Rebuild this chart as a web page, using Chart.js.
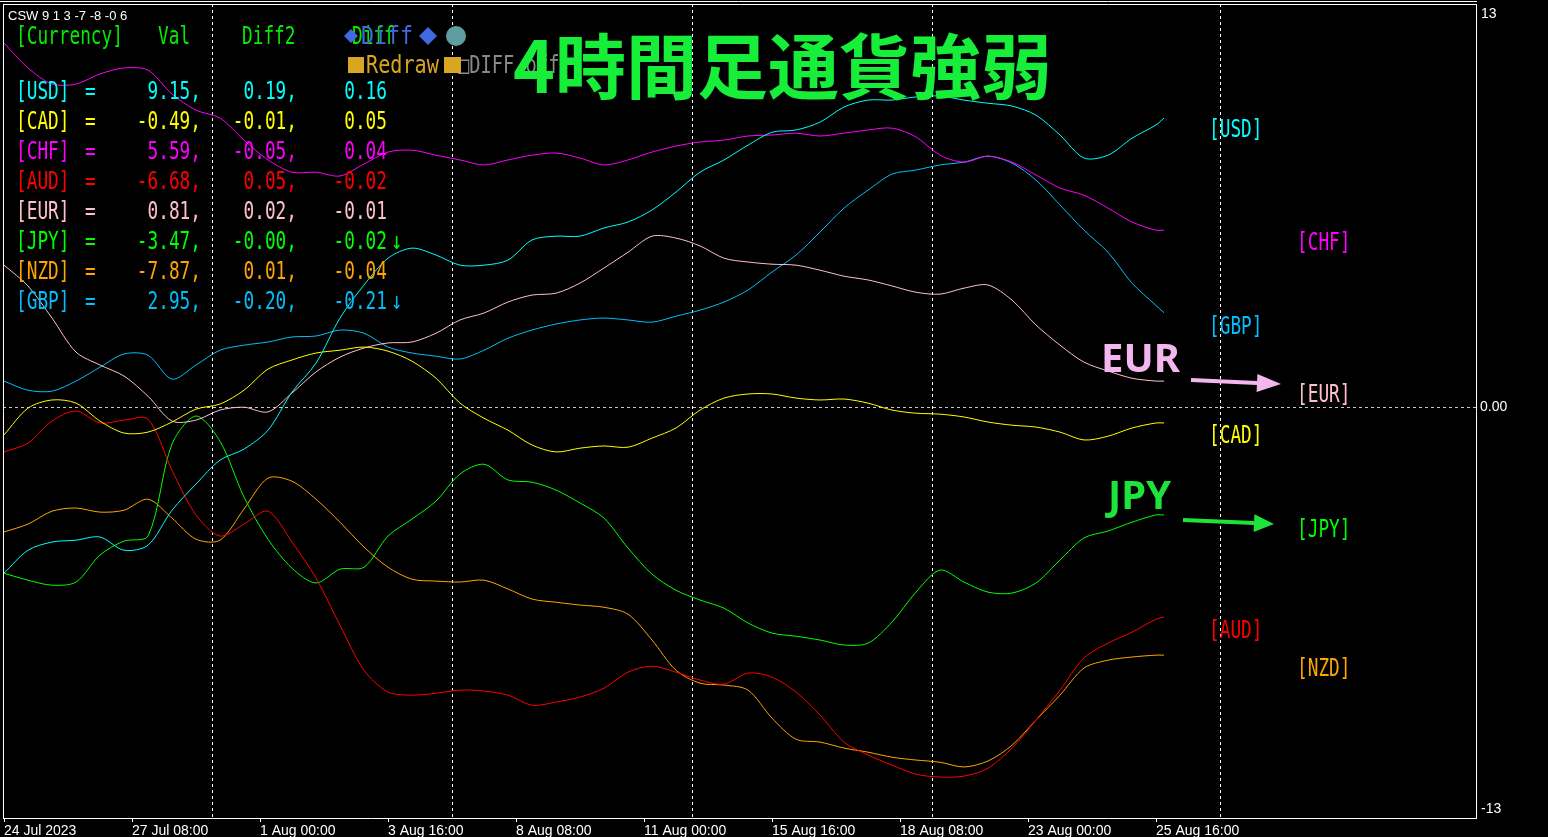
<!DOCTYPE html>
<html><head><meta charset="utf-8">
<script src="https://cdn.jsdelivr.net/npm/chart.js@4.4.0/dist/chart.umd.min.js"></script>
<style>html,body{margin:0;padding:0;background:#000;overflow:hidden}canvas{display:block}</style>
</head><body>
<canvas id="c" width="1548" height="837"></canvas>
<script>
// bar index (4H bars, 0 = 24 Jul 2023 16:00)
const bars = [0,3,6,9,12,15,18,21,24,27,30,33,36,39,42,45,48,51,54,57,60,63,66,69,72,75,78,81,84,87,90,93,96,99,102,105,108,111,114,117,120,123,126,129,132,135,138,141,144,145];

const usd = [-5.29,-4.56,-4.30,-4.24,-4.14,-4.56,-4.40,-3.29,-2.46,-1.70, -1.35,-0.75,0.46,1.38,2.81,3.86,4.71,5.03,4.81,4.49, 4.49,4.65,5.29,5.41,5.41,5.67,5.86,6.24,6.81,7.44, 7.83,8.30,8.71,8.78,9.03,9.51,9.73,9.73,9.83,9.86, 9.73,9.63,9.54,9.25,8.62,7.89,7.98,8.52,8.94,9.16];
const cad = [-0.90,-0.05,0.21,0.11,-0.46,-0.84,-0.81,-0.49,-0.08,0.08, 0.52,1.19,1.48,1.70,1.79,1.89,1.76,1.44,0.90,0.11, -0.37,-0.75,-1.22,-1.44,-1.32,-1.25,-1.29,-1.00,-0.68,-0.11, 0.27,0.40,0.40,0.27,0.21,0.24,0.11,-0.11,-0.21,-0.24, -0.33,-0.49,-0.59,-0.65,-0.81,-1.06,-0.94,-0.68,-0.52,-0.52];
const chf = [11.54,10.75,10.24,10.24,10.56,10.75,10.68,9.92,9.41,9.16, 8.46,7.83,7.44,7.44,7.32,7.70,8.08,8.14,7.98,7.83, 7.67,7.83,7.98,8.05,7.89,7.67,7.83,8.08,8.27,8.40, 8.46,8.59,8.62,8.68,8.59,8.68,8.78,8.84,8.56,7.98, 7.76,7.95,7.76,7.35,6.94,6.71,6.30,5.86,5.60,5.60];
const aud = [-1.44,-1.16,-0.46,-0.14,-0.52,-0.43,-0.40,-2.02,-3.44,-4.11, -3.73,-3.32,-4.30,-5.44,-6.94,-8.37,-9.06,-9.16,-9.10,-9.00, -9.03,-9.16,-9.48,-9.38,-9.22,-8.94,-8.43,-8.24,-8.43,-8.68, -8.81,-8.46,-8.59,-9.06,-9.79,-10.65,-11.06,-11.38,-11.67,-11.76, -11.73,-11.48,-10.84,-9.95,-9.00,-7.98,-7.51,-7.16,-6.75,-6.68];
const eur = [4.49,3.83,2.81,1.73,1.32,0.97,0.33,-0.46,-0.43,-0.11, -0.02,-0.17,0.43,1.10,1.57,1.86,2.02,2.05,2.33,2.75, 2.97,3.32,3.54,3.60,3.92,4.40,4.90,5.41,5.35,5.10, 4.71,4.59,4.52,4.49,4.33,4.14,4.02,3.83,3.63,3.57, 3.76,3.86,3.38,2.59,1.95,1.41,1.13,0.90,0.81,0.81];
const jpy = [-5.29,-5.51,-5.67,-5.57,-4.71,-4.27,-4.11,-1.19,-0.30,-1.10, -2.87,-4.21,-5.13,-5.60,-5.16,-5.10,-4.11,-3.57,-3.00,-2.14, -1.83,-2.33,-2.40,-2.65,-3.06,-3.54,-4.49,-5.32,-5.83,-6.14, -6.40,-6.87,-7.19,-7.29,-7.41,-7.57,-7.51,-6.84,-5.89,-5.19, -5.57,-5.89,-5.92,-5.60,-4.87,-4.17,-3.95,-3.67,-3.44,-3.44];
const nzd = [-3.98,-3.73,-3.32,-3.22,-3.35,-3.29,-2.94,-3.54,-4.21,-4.24, -3.25,-2.27,-2.37,-2.94,-3.67,-4.46,-5.10,-5.48,-5.54,-5.57, -5.51,-5.79,-6.11,-6.21,-6.30,-6.37,-6.59,-7.41,-8.37,-8.78, -8.84,-9.00,-9.89,-10.56,-10.65,-10.84,-10.97,-11.13,-11.22,-11.29, -11.44,-11.25,-10.75,-9.95,-9.16,-8.30,-8.05,-7.95,-7.89,-7.89];
const gbp = [0.81,0.52,0.49,0.81,1.25,1.67,1.63,0.87,1.32,1.79, 1.95,2.05,2.21,2.24,2.43,2.33,1.89,1.70,1.60,1.51, 1.79,2.17,2.43,2.62,2.75,2.81,2.75,2.68,2.87,3.06, 3.32,3.70,4.27,4.81,5.54,6.30,6.87,7.38,7.51,7.67, 7.76,7.95,7.73,7.19,6.40,5.60,4.90,3.92,3.21,2.98];

const currencies = ['USD','CAD','CHF','AUD','EUR','JPY','NZD','GBP'];
const seriesVals = [usd,cad,chf,aud,eur,jpy,nzd,gbp];
const colors = ['#00FFFF','#FFFF00','#FF00FF','#FF0000','#FFC0CB','#00FF00','#FFA500','#00BFFF'];

// legend table
const valNow = [9.15,-0.49,5.59,-6.68,0.81,-3.47,-7.87,2.95];
const diff2 = [0.19,-0.01,-0.05,0.05,0.02,-0.001,0.01,-0.20];
const diff1 = [0.16,0.05,0.04,-0.02,-0.01,-0.02,-0.04,-0.21];
const trend = ['','','','','','↓','','↓'];

// axis
const tickBars = [0,16,32,48,64,80,96,112,128,144];
const tickLabels = ['24 Jul 2023','27 Jul 08:00','1 Aug 00:00','3 Aug 16:00','8 Aug 08:00','11 Aug 00:00','15 Aug 16:00','18 Aug 08:00','23 Aug 00:00','25 Aug 16:00'];
const separatorBars = [26,56,86,116,152];
const yLabels = ['13','0.00','-13'];
const yMin = -13.06, yMax = 12.78;

const MONO = '"DejaVu Sans Mono", "Liberation Mono", monospace';
function ctext(ctx, s, x, y, color, align, size, sx){
  ctx.save(); ctx.translate(x,y); ctx.scale(sx||0.74,1);
  ctx.font = (size||24)+'px '+MONO; ctx.fillStyle=color; ctx.textAlign=align||'left'; ctx.textBaseline='middle';
  ctx.fillText(s,0,0); ctx.restore();
}
function arrow(ctx,x1,y1,x2,y2,color,w,hl,hw){
  const ang=Math.atan2(y2-y1,x2-x1);
  const bx=x2-hl*Math.cos(ang), by=y2-hl*Math.sin(ang);
  ctx.save(); ctx.strokeStyle=color; ctx.fillStyle=color; ctx.lineWidth=w;
  ctx.beginPath(); ctx.moveTo(x1,y1); ctx.lineTo(bx,by); ctx.stroke();
  ctx.beginPath(); ctx.moveTo(x2,y2);
  ctx.lineTo(bx+hw*Math.sin(ang), by-hw*Math.cos(ang));
  ctx.lineTo(bx-hw*Math.sin(ang), by+hw*Math.cos(ang));
  ctx.closePath(); ctx.fill(); ctx.restore();
}
function diamond(ctx,cx,cy,r,color){
  ctx.save(); ctx.fillStyle=color; ctx.beginPath();
  ctx.moveTo(cx,cy-r); ctx.lineTo(cx+r,cy); ctx.lineTo(cx,cy+r); ctx.lineTo(cx-r,cy); ctx.closePath(); ctx.fill(); ctx.restore();
}

const overlay = {
  id:'overlay',
  beforeDraw(chart){
    const {ctx,width,height}=chart;
    ctx.save(); ctx.fillStyle='#000'; ctx.fillRect(0,0,width,height); ctx.restore();
  },
  beforeDatasetsDraw(chart){
    const {ctx, chartArea:a, scales:{x,y}} = chart;
    ctx.save(); ctx.lineWidth=1; ctx.setLineDash([3,3]);
    ctx.strokeStyle='#ffffff';
    separatorBars.forEach(b=>{
      const px=Math.round(x.getPixelForValue(b))+0.5;
      ctx.beginPath(); ctx.moveTo(px,a.top); ctx.lineTo(px,a.bottom); ctx.stroke();
    });
    ctx.strokeStyle='#c8c8c8';
    const py=Math.round(y.getPixelForValue(0))+0.5;
    ctx.beginPath(); ctx.moveTo(a.left,py); ctx.lineTo(a.right,py); ctx.stroke();
    ctx.restore();
  },
  afterDraw(chart){
    const {ctx, chartArea:a, scales:{y}} = chart;
    ctx.save();
    ctx.strokeStyle='#fff'; ctx.lineWidth=1;
    ctx.beginPath(); ctx.moveTo(0,1.5); ctx.lineTo(a.right+1,1.5); ctx.stroke();
    ctx.beginPath(); ctx.moveTo(a.left+0.5,a.top+0.5); ctx.lineTo(a.right+1,a.top+0.5); ctx.stroke();
    ctx.beginPath(); ctx.moveTo(a.left+0.5,a.top); ctx.lineTo(a.left+0.5,a.bottom+1); ctx.stroke();
    ctx.fillStyle='#fff'; ctx.font='14px "Liberation Sans", Arial, sans-serif'; ctx.textBaseline='middle'; ctx.textAlign='left';
    ctx.fillText(yLabels[0], a.right+5, a.top+10);
    ctx.fillText(yLabels[1], a.right+4, y.getPixelForValue(0)+1);
    ctx.fillText(yLabels[2], a.right+5, a.bottom-9);
    ctx.font='13px "Liberation Sans", Arial, sans-serif';
    ctx.fillText('CSW 9 1 3 -7 -8 -0 6', 8, 16);
    ctx.restore();

    const hdr='#00EE00';
    ctext(ctx,'[Currency]',16,38,hdr);
    ctext(ctx,'Val',158,38,hdr);
    ctext(ctx,'Diff2',242,38,hdr);
    ctext(ctx,'Diff',352,38,hdr);
    diamond(ctx,351,36,7,'#4169E1');
    ctext(ctx,'Diff',361,38,'#4169E1','left',24,0.9);
    diamond(ctx,428,36,9,'#4169E1');
    ctx.save(); ctx.fillStyle='#5F9EA0'; ctx.beginPath(); ctx.arc(456,36,10,0,Math.PI*2); ctx.fill(); ctx.restore();
    ctx.save(); ctx.fillStyle='#DAA520'; ctx.fillRect(348,57,16,16); ctx.restore();
    ctext(ctx,'Redraw',366,67,'#DAA520','left',24,0.84);
    ctext(ctx,'□DIFF off',458,67,'#8a8a8a','left',24,0.78);
    ctx.save(); ctx.fillStyle='#DAA520'; ctx.fillRect(444,57,17,16); ctx.restore();

    currencies.forEach((c,i)=>{
      const yy=93+30*i, col=colors[i];
      ctext(ctx,'['+c+']',16,yy,col);
      ctext(ctx,'=',85,yy,col);
      ctext(ctx,valNow[i].toFixed(2)+',',201,yy,col,'right');
      ctext(ctx,diff2[i].toFixed(2)+',',297,yy,col,'right');
      ctext(ctx,diff1[i].toFixed(2),387,yy,col,'right');
      if (trend[i]) ctext(ctx,trend[i],391,yy,col,'left',24,0.8);
    });

    const side=[['USD',1209,131],['CHF',1297,244],['GBP',1209,328],['EUR',1297,396],['CAD',1209,437],['JPY',1297,531],['AUD',1209,632],['NZD',1297,670]];
    side.forEach(s=>{ ctext(ctx,'['+s[0]+']',s[1],s[2],colors[currencies.indexOf(s[0])]); });

    ctx.save();
    ctx.font='bold 71px "Noto Sans CJK JP", sans-serif'; ctx.fillStyle='#17EE3A';
    ctx.textBaseline='middle'; ctx.textAlign='left';
    ctx.fillText('4時間足通貨強弱', 513, 66);
    ctx.font='bold 40px "Noto Sans", sans-serif'; ctx.textBaseline='alphabetic';
    ctx.fillStyle='#F4B6EE'; ctx.fillText('EUR',1101,372);
    ctx.fillStyle='#1DE33A'; ctx.fillText('JPY',1108,509);
    ctx.restore();
    arrow(ctx,1191,380,1281,384,'#F4B6EE',4,24,9);
    arrow(ctx,1183,520,1274,524,'#1DE33A',4,20,9);
  }
};

const datasets = currencies.map((c,i)=>({
  label:c,
  data: bars.map((b,j)=>({x:b, y:seriesVals[i][j]})),
  borderColor: colors[i], borderWidth:1, pointRadius:0, tension:0.3, fill:false
}));

new Chart(document.getElementById('c'), {
  type:'line',
  data:{datasets},
  options:{
    responsive:false, animation:false, devicePixelRatio:1,
    layout:{padding:{left:3, top:4, right:0, bottom:0}},
    plugins:{legend:{display:false}, tooltip:{enabled:false}},
    scales:{
      x:{
        type:'linear', min:-0.125, max:184, position:'bottom',
        afterBuildTicks:(s)=>{ s.ticks = tickBars.map(v=>({value:v})); },
        afterFit:(s)=>{ s.height = 19; },
        ticks:{ callback:(v,i)=>tickLabels[i], autoSkip:false, maxRotation:0, minRotation:0, align:'start',
          color:'#fff', font:{family:'"Liberation Sans", Arial, sans-serif', size:14}, padding:1 },
        grid:{ drawOnChartArea:false, drawTicks:true, tickLength:4, color:'#fff' },
        border:{ color:'#fff', width:1 }
      },
      y:{
        type:'linear', min:yMin, max:yMax, position:'right',
        afterFit:(s)=>{ s.width = 72; },
        ticks:{ display:false },
        grid:{ drawOnChartArea:false, drawTicks:false },
        border:{ color:'#fff', width:1 }
      }
    }
  },
  plugins:[overlay]
});
</script>
</body></html>
